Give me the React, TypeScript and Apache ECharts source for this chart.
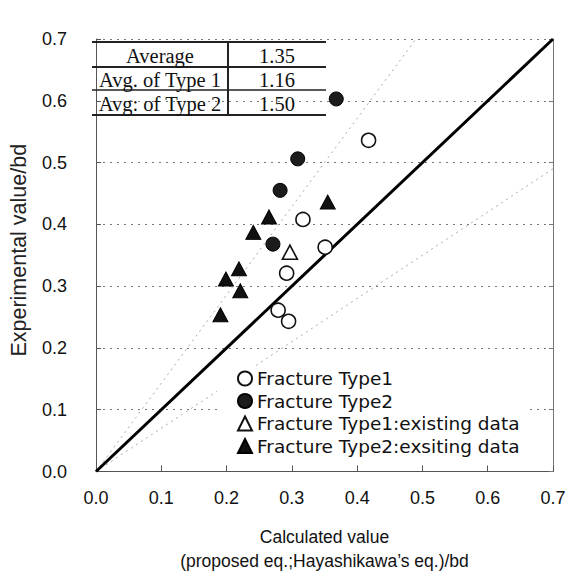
import React, { useEffect, useRef } from "react";
import * as echarts from "echarts";

// Data: [calculated, experimental]
const type1Points = [
  [0.4175, 0.536],
  [0.317, 0.408],
  [0.351, 0.363],
  [0.292, 0.321],
  [0.279, 0.261],
  [0.295, 0.243],
];
const type2Points = [
  [0.368, 0.603],
  [0.309, 0.506],
  [0.282, 0.455],
  [0.271, 0.368],
];
const type1ExistingPoints = [[0.297, 0.355]];
const type2ExistingPoints = [
  [0.355, 0.436],
  [0.265, 0.412],
  [0.241, 0.387],
  [0.219, 0.328],
  [0.199, 0.3115],
  [0.221, 0.2925],
  [0.1906, 0.2536],
];
// Reference lines: y = x, y = x / 0.7, y = 0.7 x
const equalityLine = [[0, 0], [0.7, 0.7]];
const upperLine = [[0, 0], [0.49, 0.7]];
const lowerLine = [[0, 0], [0.7, 0.49]];

const tableRows = ["Average", "Avg. of Type 1", "Avg: of Type 2"];
const tableValues = ["1.35", "1.16", "1.50"];

const legendNames = [
  "Fracture Type1",
  "Fracture Type2",
  "Fracture Type1:existing data",
  "Fracture Type2:exsiting data",
];

const xAxisTitle = "Calculated value\n(proposed eq.;Hayashikawa\u2019s eq.)/bd";
const yAxisTitle = "Experimental value/bd";

export default function App() {
  const ref = useRef<HTMLDivElement>(null);

  useEffect(() => {
    if (!ref.current) return;
    const chart = echarts.init(ref.current, null, { renderer: "svg" });

    const tickFont = {
      fontFamily: "Liberation Sans",
      fontSize: 18,
      color: "#111",
    };

    const tableLeft = 92;
    const tableMid = 228;
    const tableRight = 326;
    const rowLines = [42, 67, 90, 115];
    const graphic: any[] = [];
    rowLines.forEach((y, i) => {
      graphic.push({
        type: "line",
        shape: { x1: tableLeft, y1: y, x2: tableRight, y2: y },
        style: { stroke: "#222", lineWidth: i === 2 ? 1.5 : 2 },
        z: 10,
      });
    });
    graphic.push({
      type: "line",
      shape: { x1: tableMid, y1: rowLines[0], x2: tableMid, y2: rowLines[3] },
      style: { stroke: "#222", lineWidth: 2 },
      z: 10,
    });
    tableRows.forEach((label, i) => {
      const cy = (rowLines[i] + rowLines[i + 1]) / 2 + 1;
      graphic.push({
        type: "text",
        x: (tableLeft + tableMid) / 2,
        y: cy,
        style: {
          text: label,
          fontFamily: "Liberation Serif",
          fontSize: 20.5,
          fill: "#111",
          align: "center",
          verticalAlign: "middle",
        },
        z: 10,
      });
      graphic.push({
        type: "text",
        x: (tableMid + tableRight) / 2,
        y: cy,
        style: {
          text: tableValues[i],
          fontFamily: "Liberation Serif",
          fontSize: 20.5,
          fill: "#111",
          align: "center",
          verticalAlign: "middle",
        },
        z: 10,
      });
    });

    const refLine = (data: number[][], style: any) => ({
      type: "line",
      data,
      symbol: "none",
      silent: true,
      lineStyle: style,
      z: 1,
    });

    chart.setOption({
      animation: false,
      backgroundColor: "#fff",
      grid: { left: 91, top: 39, right: 18, bottom: 106.5 },
      legend: {
        data: legendNames,
        orient: "vertical",
        left: 217,
        top: 367,
        padding: [2, 8, 1, 20],
        backgroundColor: "#fff",
        itemGap: 3.5,
        itemWidth: 14,
        itemHeight: 14,
        textStyle: { fontFamily: "DejaVu Sans", fontSize: 18.5, color: "#111" },
        z: 4,
      },
      xAxis: {
        type: "value",
        min: 0,
        max: 0.7,
        interval: 0.1,
        name: xAxisTitle,
        nameLocation: "middle",
        nameGap: 53,
        nameTextStyle: {
          fontFamily: "Liberation Sans",
          fontSize: 17.5,
          lineHeight: 24,
          color: "#111",
        },
        axisLine: { show: true, lineStyle: { color: "#555", width: 1 } },
        axisTick: { show: true, inside: true, length: 6, lineStyle: { color: "#555" } },
        axisLabel: {
          ...tickFont,
          margin: 17,
          formatter: (v: number) => v.toFixed(1),
        },
        splitLine: { show: false },
      },
      yAxis: [
        {
          type: "value",
          min: 0,
          max: 0.7,
          interval: 0.1,
          name: yAxisTitle,
          nameLocation: "middle",
          nameGap: 66,
          nameTextStyle: {
            fontFamily: "Liberation Sans",
            fontSize: 21.5,
            color: "#222",
            padding: [0, 0, 0, 10],
          },
          axisLine: { show: true, lineStyle: { color: "#555", width: 1 } },
          axisTick: { show: true, inside: true, length: 5, lineStyle: { color: "#555" } },
          axisLabel: {
            ...tickFont,
            margin: 29,
            formatter: (v: number) => v.toFixed(1),
          },
          splitLine: {
            show: true,
            lineStyle: { color: "#777", width: 1, type: [2, 5] },
          },
        },
        {
          type: "value",
          position: "right",
          min: 0,
          max: 0.7,
          interval: 0.1,
          axisLine: { show: true, lineStyle: { color: "#777", width: 1 } },
          axisTick: { show: true, inside: true, length: 4, lineStyle: { color: "#777" } },
          axisLabel: { show: false },
          splitLine: { show: false },
        },
      ],
      graphic,
      series: [
        refLine(upperLine, { color: "#aaa", width: 1, type: [2, 4] }),
        refLine(lowerLine, { color: "#aaa", width: 1, type: [2, 4] }),
        refLine(equalityLine, { color: "#000", width: 3 }),
        {
          name: legendNames[0],
          type: "scatter",
          data: type1Points,
          symbol: "circle",
          symbolSize: 14,
          itemStyle: { color: "#fff", borderColor: "#111", borderWidth: 1.6, opacity: 1 },
          z: 5,
        },
        {
          name: legendNames[1],
          type: "scatter",
          data: type2Points,
          symbol: "circle",
          symbolSize: 14,
          itemStyle: { color: "#1c1c1c", borderColor: "#000", borderWidth: 1, opacity: 1 },
          z: 5,
        },
        {
          name: legendNames[2],
          type: "scatter",
          data: type1ExistingPoints,
          symbol: "triangle",
          symbolSize: [15, 14],
          itemStyle: { color: "#fff", borderColor: "#111", borderWidth: 1.6, opacity: 1 },
          z: 5,
        },
        {
          name: legendNames[3],
          type: "scatter",
          data: type2ExistingPoints,
          symbol: "triangle",
          symbolSize: [15, 14],
          itemStyle: { color: "#111", borderColor: "#000", borderWidth: 1, opacity: 1 },
          z: 5,
        },
      ],
    });

    return () => chart.dispose();
  }, []);

  return (
    <div
      ref={ref}
      style={{ position: "absolute", left: 0, top: 0, width: 571, height: 578 }}
    />
  );
}
